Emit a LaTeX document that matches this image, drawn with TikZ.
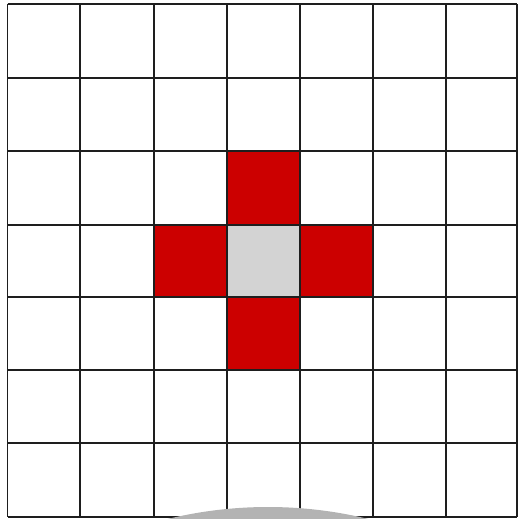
\documentclass[tikz,border=0pt]{standalone}
\definecolor{cellred}{HTML}{CC0000}
\definecolor{cellgray}{HTML}{D3D3D3}
\definecolor{arcgray}{HTML}{B3B3B3}
\definecolor{gridline}{HTML}{1E1E1E}
\begin{document}
\begin{tikzpicture}[x=1pt,y=-1pt,
  redcell/.style={fill=cellred},
  centercell/.style={fill=cellgray},
  gridstyle/.style={draw=gridline,line width=1.3pt}]
\useasboundingbox (0,0) rectangle (520,519);
\clip (0,0) rectangle (520,519);
\fill[white] (0,0) rectangle (520,519);
% cells
\fill[redcell] (227,151) rectangle (300,225);
\fill[redcell] (154,225) rectangle (227,297);
\fill[redcell] (300,225) rectangle (373,297);
\fill[redcell] (227,297) rectangle (300,370);
\fill[centercell] (227,225) rectangle (300,297);
% grid
\foreach \x in {7.5,80,154,227,300,373,446,517}
  \draw[gridstyle] (\x,4) -- (\x,517);
\foreach \y in {4,78,151,225,297,370,443,517}
  \draw[gridstyle] (7.5,\y) -- (517,\y);
% gray disc at bottom
\fill[arcgray] (268,930) circle (423);
\end{tikzpicture}
\end{document}
